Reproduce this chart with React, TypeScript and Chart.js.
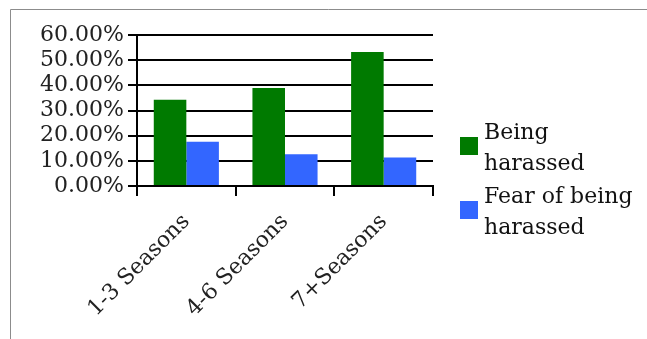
import React, { useEffect, useRef } from 'react';
import { Chart, registerables } from 'chart.js';

Chart.register(...registerables);

const categories = ['1-3 Seasons', '4-6 Seasons', '7+Seasons'];
const beingHarassed = [34.3, 38.9, 53.2];
const fearOfBeingHarassed = [17.6, 12.6, 11.3];
const seriesLabels = ['Being harassed', 'Fear of being harassed'];
const legendLines = [['Being', 'harassed'], ['Fear of being', 'harassed']];
const yMax = 60;
const yStep = 10;

const FONT = '"DejaVu Serif", serif';
const FS = 22;

const framePlugin = {
  id: 'frame',
  beforeDraw(chart: any) {
    const { ctx, width, height } = chart;
    ctx.save();
    ctx.strokeStyle = '#8c8c8c';
    ctx.lineWidth = 1;
    ctx.beginPath();
    ctx.moveTo(10.5, height);
    ctx.lineTo(10.5, 9.5);
    ctx.lineTo(width, 9.5);
    ctx.stroke();
    ctx.restore();
  },
};

const legendPlugin = {
  id: 'sideLegend',
  afterDraw(chart: any) {
    const { ctx, chartArea } = chart;
    ctx.save();
    ctx.font = `${FS}px ${FONT}`;
    ctx.textBaseline = 'alphabetic';
    ctx.textAlign = 'left';
    const boxX = chartArea.right + 27;
    const textX = chartArea.right + 51;
    const lineH = 31;
    let baseline = 139;
    chart.data.datasets.forEach((ds: any, i: number) => {
      const lines = legendLines[i];
      ctx.fillStyle = ds.backgroundColor;
      ctx.fillRect(boxX, baseline - 2, 18, 18);
      ctx.fillStyle = '#111';
      lines.forEach((l: string, j: number) => {
        ctx.fillText(l, textX, baseline + j * lineH);
      });
      baseline += lines.length * lineH + 2;
    });
    ctx.restore();
  },
};

export default function App() {
  const ref = useRef<HTMLCanvasElement | null>(null);
  useEffect(() => {
    document.body.style.margin = '0';
    const chart = new Chart(ref.current!, {
      type: 'bar',
      data: {
        labels: categories,
        datasets: [
          { label: seriesLabels[0], data: beingHarassed, backgroundColor: '#007a00', categoryPercentage: 0.66, barPercentage: 1 },
          { label: seriesLabels[1], data: fearOfBeingHarassed, backgroundColor: '#3366ff', categoryPercentage: 0.66, barPercentage: 1 },
        ],
      },
      options: {
        animation: false,
        responsive: false,
        maintainAspectRatio: false,
        layout: { padding: { left: 10, top: 35, right: 214, bottom: 0 } },
        plugins: { legend: { display: false }, tooltip: { enabled: false } },
        scales: {
          x: {
            afterFit(scale: any) { scale.height = 153; },
            grid: {
              offset: true,
              drawOnChartArea: true,
              color: (c: any) => (c.index === categories.length ? '#d9d9d9' : 'rgba(0,0,0,0)'),
              tickColor: '#000',
              lineWidth: 2,
              tickLength: 10,
            },
            border: { display: true, color: '#000', width: 2 },
            ticks: {
              minRotation: 45,
              maxRotation: 45,
              autoSkip: false,
              color: '#222',
              font: { family: FONT, size: FS },
              padding: 13,
            },
          },
          y: {
            min: 0,
            max: yMax,
            afterFit(scale: any) { scale.width = 127; },
            grid: { color: '#000', lineWidth: 2, tickLength: 9 },
            border: { display: true, color: '#000', width: 2 },
            ticks: {
              stepSize: yStep,
              autoSkip: false,
              color: '#222',
              font: { family: FONT, size: FS, lineHeight: 1 },
              padding: 4,
              callback: (v: any) => Number(v).toFixed(2) + '%',
            },
          },
        },
      },
      plugins: [framePlugin, legendPlugin],
    });
    return () => chart.destroy();
  }, []);
  return (
    <div style={{ position: 'absolute', left: 0, top: 0, width: 647, height: 339, background: '#fff' }}>
      <canvas ref={ref} width={647} height={339} style={{ width: 647, height: 339 }} />
    </div>
  );
}
